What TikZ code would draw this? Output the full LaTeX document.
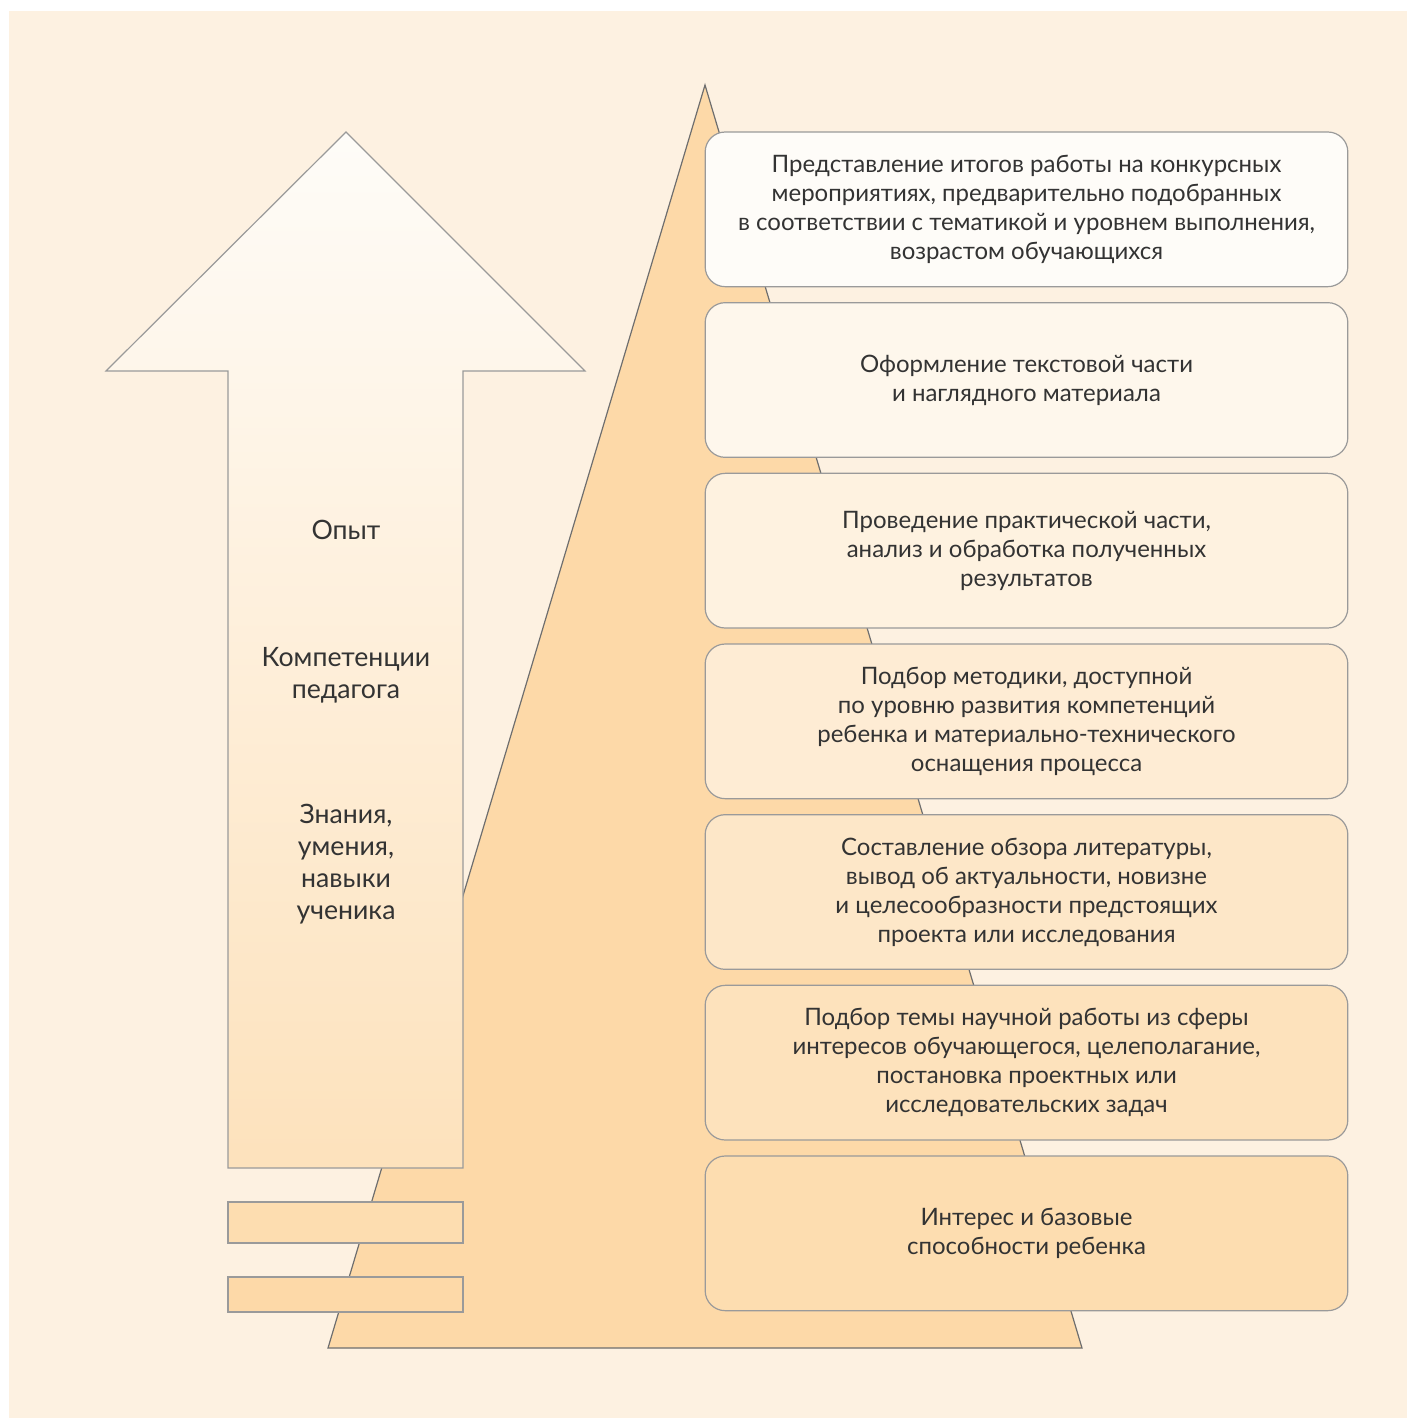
\documentclass[tikz,border=0pt]{standalone}
\usepackage{fontspec}
\setmainfont{Lato}
\usetikzlibrary{positioning}
\definecolor{bgcream}{HTML}{FDF1E1}
\definecolor{peach}{HTML}{FDD9A8}
\definecolor{paleshade}{HTML}{FEFCF8}
\definecolor{edgegray}{HTML}{9A9A9A}
\definecolor{darkedge}{HTML}{6E6E6E}
\definecolor{textgray}{HTML}{333333}

\begin{document}
\begin{tikzpicture}[x=0.75pt, y=-0.75pt, node distance=12pt,
    stepbox/.style={draw=edgegray, line width=0.9pt, rounded corners=15pt,
      minimum width=482pt, minimum height=116pt, inner sep=0pt, outer sep=0pt,
      align=center, text=textgray, font=\fontsize{18}{21.75}\selectfont},
    arrowlabel/.style={align=center, text=textgray, font=\fontsize{20}{24}\selectfont},
    bar/.style={draw=edgegray, line width=0.9pt}]
    \useasboundingbox (0,0) rectangle (1407,1418);
    % Background
    \fill[bgcream] (9,11) rectangle (1407,1418);

    % Pyramid behind the steps
    \draw[darkedge, line width=0.9pt, fill=peach] (705,85) -- (1082,1348) -- (328,1348) -- cycle;

    % Growth arrow
    \path[draw=edgegray, line width=0.9pt, top color=paleshade, bottom color=peach!75!paleshade]
      (346,132) -- (585,371) -- (463,371) -- (463,1168) -- (228,1168) -- (228,371) -- (106,371) -- cycle;
    \node (exp) [arrowlabel] at (346,530) {Опыт};
    \node (comp) [arrowlabel] at (346,675) {Компетенции\\педагога};
    \node (skills) [arrowlabel] at (346,864) {Знания,\\умения,\\навыки\\ученика};

    % Base bars
    \draw[bar, fill=peach!90!paleshade] (228,1202) rectangle (463,1243);
    \draw[bar, fill=peach] (228,1277) rectangle (463,1312);

    % Steps
    \node (st1) [stepbox, anchor=north, fill=paleshade] at (1026.5,132)
      {Представление итогов работы на конкурсных\\мероприятиях, предварительно подобранных\\в соответствии с тематикой и уровнем выполнения,\\возрастом обучающихся};
    \node (st2) [stepbox, below=of st1, fill=peach!15!paleshade]
      {Оформление текстовой части\\и наглядного материала};
    \node (st3) [stepbox, below=of st2, fill=peach!30!paleshade]
      {Проведение практической части,\\анализ и обработка полученных\\результатов};
    \node (st4) [stepbox, below=of st3, fill=peach!45!paleshade]
      {Подбор методики, доступной\\по уровню развития компетенций\\ребенка и материально-технического\\оснащения процесса};
    \node (st5) [stepbox, below=of st4, fill=peach!60!paleshade]
      {Составление обзора литературы,\\вывод об актуальности, новизне\\и целесообразности предстоящих\\проекта или исследования};
    \node (st6) [stepbox, below=of st5, fill=peach!75!paleshade]
      {Подбор темы научной работы из сферы\\интересов обучающегося, целеполагание,\\постановка проектных или\\исследовательских задач};
    \node (st7) [stepbox, below=of st6, fill=peach!90!paleshade]
      {Интерес и базовые\\способности ребенка};
\end{tikzpicture}
\end{document}
